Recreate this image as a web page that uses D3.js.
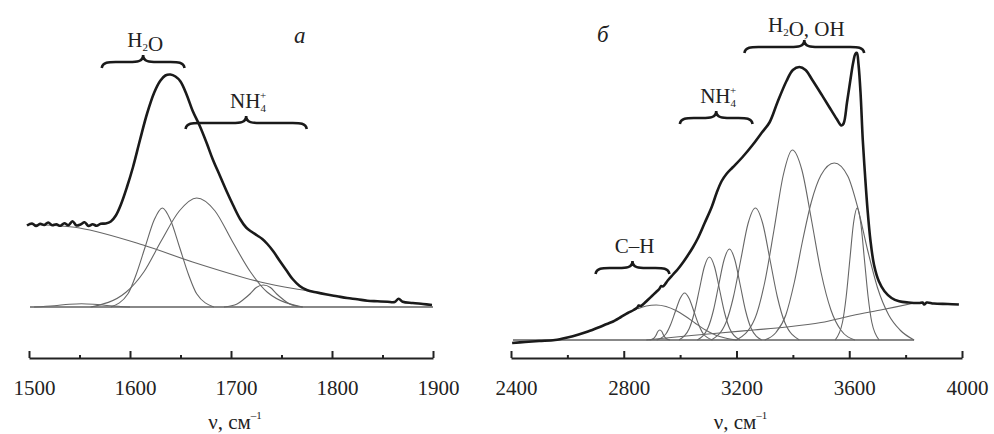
<!DOCTYPE html>
<html>
<head>
<meta charset="utf-8">
<script src="https://cdn.jsdelivr.net/npm/d3@7"></script>
<style>
  body { margin: 0; background: #fff; }
  svg { display: block; font-family: "Liberation Serif", "Times New Roman", serif; }
  .axis path, .axis line { stroke: #222; stroke-width: 2; }
  .axis text { font-size: 21px; fill: #222; font-family: "Liberation Serif", serif; }
</style>
</head>
<body>
<div id="chart"></div>
<script>
// panel a: 1500-1900 cm-1
const leftNu = [1498, 1503, 1507, 1511, 1515, 1519, 1523, 1527, 1531, 1535, 1539, 1543, 1547, 1551, 1555, 1559, 1563, 1567, 1571, 1576,
  1581, 1586, 1591, 1597, 1603, 1610, 1617, 1624, 1630, 1635, 1640, 1645, 1650, 1656, 1662, 1669, 1676, 1682, 1689, 1696,
  1702, 1709, 1715, 1720, 1726, 1731, 1736, 1742, 1748, 1755, 1761, 1768, 1775, 1785, 1795, 1805, 1815, 1825, 1835, 1845,
  1855, 1862, 1866, 1870, 1880, 1890, 1899];
const leftAbs = [0.326, 0.334, 0.324, 0.333, 0.328, 0.338, 0.327, 0.331, 0.325, 0.335, 0.327, 0.343, 0.326, 0.330, 0.339, 0.324, 0.331, 0.325, 0.333, 0.334,
  0.342, 0.366, 0.41, 0.48, 0.56, 0.67, 0.775, 0.858, 0.905, 0.926, 0.93, 0.922, 0.902, 0.85, 0.785, 0.725, 0.655, 0.59, 0.525, 0.46,
  0.408, 0.352, 0.318, 0.302, 0.286, 0.272, 0.252, 0.222, 0.186, 0.146, 0.112, 0.084, 0.068, 0.058, 0.05, 0.043, 0.036, 0.031, 0.025, 0.023,
  0.021, 0.02, 0.033, 0.021, 0.016, 0.012, 0.008];
const leftBackground = [[1500, 0.33], [1550, 0.316], [1613, 0.248], [1662, 0.18], [1729, 0.10], [1768, 0.07], [1790, 0.057]];
const leftBand1 = [[1581, 0], [1598, 0.053], [1606, 0.129], [1615, 0.24], [1624, 0.349], [1632, 0.396], [1640, 0.349], [1649, 0.24], [1658, 0.129], [1666, 0.053], [1683, 0]];
const leftBand2 = [[1561, 0], [1596, 0.059], [1614, 0.142], [1631, 0.265], [1649, 0.385], [1666, 0.436], [1684, 0.385], [1701, 0.265], [1719, 0.142], [1736, 0.059], [1771, 0]];
const leftBand3 = [[1693, 0], [1706, 0.012], [1712, 0.029], [1719, 0.053], [1725, 0.078], [1732, 0.088], [1739, 0.078], [1745, 0.053], [1752, 0.029], [1758, 0.012], [1771, 0]];
const leftBand4 = [[1505, 0], [1525, 0.005], [1540, 0.011], [1552, 0.013], [1564, 0.011], [1580, 0.005], [1600, 0]];
const leftBase = [1501, 1900];
const leftMajor = [1500, 1600, 1700, 1800, 1900];
const leftMinor = [1550, 1650, 1750, 1850];

// panel б: 2400-4000 cm-1
const rightNu = [2404, 2450, 2500, 2556, 2600, 2640, 2673, 2710, 2740, 2758, 2790, 2814, 2835, 2848, 2853, 2860, 2872, 2885, 2900, 2915,
  2926, 2933, 2938, 2946, 2956, 2975, 2991, 3010, 3027, 3045, 3062, 3087, 3112, 3130, 3147, 3165, 3186, 3220, 3257, 3290,
  3317, 3345, 3377, 3400, 3423, 3445, 3469, 3500, 3529, 3555, 3572, 3580, 3592, 3604, 3614, 3622, 3627, 3633, 3640, 3648,
  3656, 3665, 3675, 3688, 3705, 3725, 3750, 3777, 3810, 3848, 3860, 3866, 3875, 3900, 3950, 3989];
const rightAbs = [-0.012, -0.008, -0.004, 0.0, 0.01, 0.022, 0.034, 0.05, 0.064, 0.072, 0.092, 0.108, 0.12, 0.13, 0.138, 0.136, 0.146, 0.16, 0.176, 0.192,
  0.204, 0.216, 0.214, 0.222, 0.238, 0.262, 0.282, 0.31, 0.338, 0.37, 0.405, 0.468, 0.532, 0.59, 0.635, 0.665, 0.69, 0.73, 0.78, 0.83,
  0.87, 0.95, 1.035, 1.08, 1.092, 1.08, 1.04, 0.985, 0.932, 0.885, 0.858, 0.866, 0.95, 1.04, 1.11, 1.145, 1.148, 1.10, 0.99, 0.80,
  0.66, 0.52, 0.40, 0.30, 0.235, 0.195, 0.168, 0.155, 0.15, 0.148, 0.15, 0.142, 0.15, 0.146, 0.144, 0.142];
const rightBackground = [[2880, 0], [2950, 0.008], [3040, 0.018], [3140, 0.028], [3260, 0.04], [3377, 0.052], [3500, 0.07], [3611, 0.098], [3720, 0.122], [3823, 0.146]];
const rightBand1 = [[2850, 0.125], [2880, 0.136], [2915, 0.14], [2950, 0.134], [2985, 0.118], [3020, 0.094], [3055, 0.066], [3090, 0.04], [3125, 0.02], [3160, 0.008], [3200, 0]];
const rightBand2 = [[2892, 0], [2906, 0.006], [2914, 0.018], [2921, 0.034], [2928, 0.04], [2935, 0.034], [2942, 0.018], [2950, 0.006], [2964, 0]];
const rightBand3 = [[2917, 0], [2950, 0.025], [2966, 0.061], [2983, 0.114], [3000, 0.166], [3016, 0.188], [3032, 0.166], [3049, 0.114], [3066, 0.061], [3082, 0.025], [3115, 0]];
const rightBand4 = [[2996, 0], [3032, 0.045], [3050, 0.108], [3068, 0.201], [3086, 0.293], [3104, 0.332], [3122, 0.293], [3140, 0.201], [3158, 0.108], [3176, 0.045], [3212, 0]];
const rightBand5 = [[3061, 0], [3099, 0.049], [3118, 0.118], [3137, 0.221], [3156, 0.321], [3175, 0.364], [3194, 0.321], [3213, 0.221], [3232, 0.118], [3251, 0.049], [3289, 0]];
const rightBand6 = [[3111, 0], [3163, 0.071], [3189, 0.172], [3215, 0.32], [3241, 0.466], [3267, 0.528], [3293, 0.466], [3319, 0.32], [3345, 0.172], [3371, 0.071], [3423, 0]];
const rightBand7 = [[3200, 0], [3265, 0.085], [3300, 0.23], [3333, 0.44], [3366, 0.66], [3398, 0.76], [3432, 0.68], [3466, 0.48], [3500, 0.27], [3535, 0.12], [3570, 0.04], [3620, 0]];
const rightBand8 = [[3300, 0], [3340, 0.03], [3375, 0.10], [3405, 0.23], [3435, 0.40], [3465, 0.55], [3500, 0.66], [3547, 0.708], [3595, 0.655], [3630, 0.53], [3665, 0.36], [3700, 0.21], [3740, 0.1], [3780, 0.04], [3830, 0]];
const rightBand9 = [[3550, 0], [3576, 0.071], [3589, 0.172], [3602, 0.32], [3615, 0.466], [3628, 0.528], [3641, 0.466], [3654, 0.32], [3667, 0.172], [3680, 0.071], [3706, 0]];
const rightBase = [2407, 3830];
const rightMajor = [2400, 2800, 3200, 3600, 4000];
const rightMinor = [2600, 3000, 3400, 3800];

// band assignments: [from, to, level]
const leftGroups = [
  { from: 1572, to: 1654, level: 0.98, label: [["H"], ["2", "sub"], ["O"]] },
  { from: 1655, to: 1775, level: 0.736, label: [["NH"], ["4", "sub"], ["+", "sup"]] }
];
const rightGroups = [
  { from: 3228, to: 3653, level: 1.172, label: [["H"], ["2", "sub"], ["O, OH"]] },
  { from: 2999, to: 3257, level: 0.888, label: [["NH"], ["4", "sub"], ["+", "sup"]] },
  { from: 2700, to: 2962, level: 0.288, label: [["C–H"]] }
];

let w = 994;
let h = 434;
let axisY = 358;

let svg = d3
  .select("#chart")
  .append("svg")
  .attr("width", w)
  .attr("height", h);

function bracePath(x1, x2, y) {
  let xm = (x1 + x2) / 2;
  let r = 7;
  return `M${x1},${y + 6} C${x1 + 1},${y} ${x1 + r},${y} ${x1 + 2 * r},${y}` +
    ` L${xm - 2 * r},${y} C${xm - r},${y} ${xm},${y} ${xm},${y - 7}` +
    ` C${xm},${y} ${xm + r},${y} ${xm + 2 * r},${y}` +
    ` L${x2 - 2 * r},${y} C${x2 - r},${y} ${x2 - 1},${y} ${x2},${y + 6}`;
}

function addLabel(g, x, y, parts) {
  let t = g.append("text")
    .attr("x", x)
    .attr("y", y)
    .attr("text-anchor", "middle")
    .attr("font-size", 21)
    .attr("fill", "#222");
  parts.forEach(function (p) {
    if (p[1] === "sub") {
      t.append("tspan").attr("font-size", 11).attr("dy", 4).text(p[0]);
      t.append("tspan").attr("dy", -4).text("");
    } else if (p[1] === "sup") {
      t.append("tspan").attr("font-size", 11).attr("dx", -6).attr("dy", -13).text(p[0]);
      t.append("tspan").attr("dy", 13).text("");
    } else {
      t.append("tspan").text(p[0]);
    }
  });
  return t;
}

function drawPanel(opt) {
  let x = d3.scaleLinear().domain(opt.domain).range(opt.range);
  let y = d3.scaleLinear().domain([0, 1]).range([opt.zeroY, opt.zeroY - 250]);
  let g = svg.append("g");

  let line = d3.line()
    .x(function (d) { return x(d[0]); })
    .y(function (d) { return y(d[1]); });

  // zero line
  g.append("line")
    .attr("x1", x(opt.base[0]))
    .attr("x2", x(opt.base[1]))
    .attr("y1", y(0))
    .attr("y2", y(0))
    .attr("stroke", "#888")
    .attr("stroke-width", 2);

  // fitted bands
  g.selectAll("path.band")
    .data(opt.bands)
    .enter()
    .append("path")
    .attr("class", "band")
    .attr("d", line.curve(d3.curveMonotoneX))
    .attr("fill", "none")
    .attr("stroke", "#666")
    .attr("stroke-width", 1.1);

  g.append("path")
    .datum(opt.background)
    .attr("d", line.curve(d3.curveCatmullRom))
    .attr("fill", "none")
    .attr("stroke", "#666")
    .attr("stroke-width", 1.1);

  // measured spectrum
  g.append("path")
    .datum(d3.zip(opt.nu, opt.abs))
    .attr("d", line.curve(d3.curveCatmullRom))
    .attr("fill", "none")
    .attr("stroke", "#1a1a1a")
    .attr("stroke-width", 2.6)
    .attr("stroke-linejoin", "round");

  // braces with assignments
  opt.groups.forEach(function (b) {
    let by = y(b.level);
    g.append("path")
      .attr("d", bracePath(x(b.from), x(b.to), by))
      .attr("fill", "none")
      .attr("stroke", "#1a1a1a")
      .attr("stroke-width", 2.6);
    addLabel(g, (x(b.from) + x(b.to)) / 2 + 2, by - 15, b.label);
  });

  g.append("text")
    .attr("x", x(opt.letterAt[0]))
    .attr("y", y(opt.letterAt[1]))
    .attr("text-anchor", "middle")
    .attr("font-size", 23)
    .attr("font-style", "italic")
    .attr("fill", "#222")
    .text(opt.letter);

  // axis
  let ax = g.append("g")
    .attr("class", "axis")
    .attr("transform", `translate(0,${axisY})`);
  ax.call(
    d3.axisBottom(x)
      .tickValues(opt.major)
      .tickSizeInner(-7)
      .tickSizeOuter(0)
      .tickPadding(22)
      .tickFormat(d3.format("d"))
  );
  ax.selectAll(".tick text").attr("dx", 5);
  ax.append("g")
    .call(d3.axisBottom(x).tickValues(opt.minor).tickSizeInner(-3).tickSizeOuter(0).tickFormat(""))
    .select(".domain")
    .remove();

  let title = g.append("text")
    .attr("x", (opt.range[0] + opt.range[1]) / 2 + 4)
    .attr("y", 429)
    .attr("text-anchor", "middle")
    .attr("font-size", 21)
    .attr("fill", "#222");
  title.append("tspan").text("ν, см");
  title.append("tspan").attr("font-size", 11).attr("dy", -10).text("–1");
}

drawPanel({
  domain: [1500, 1900],
  range: [29, 433],
  zeroY: 307,
  nu: leftNu,
  abs: leftAbs,
  background: leftBackground,
  bands: [leftBand4, leftBand1, leftBand2, leftBand3],
  base: leftBase,
  major: leftMajor,
  minor: leftMinor,
  groups: leftGroups,
  letter: "а",
  letterAt: [1768, 1.056]
});

drawPanel({
  domain: [2400, 4000],
  range: [511, 962],
  zeroY: 340,
  nu: rightNu,
  abs: rightAbs,
  background: rightBackground,
  bands: [rightBand1, rightBand2, rightBand3, rightBand4, rightBand5, rightBand6, rightBand7, rightBand8, rightBand9],
  base: rightBase,
  major: rightMajor,
  minor: rightMinor,
  groups: rightGroups,
  letter: "б",
  letterAt: [2726, 1.192]
});
</script>
</body>
</html>
